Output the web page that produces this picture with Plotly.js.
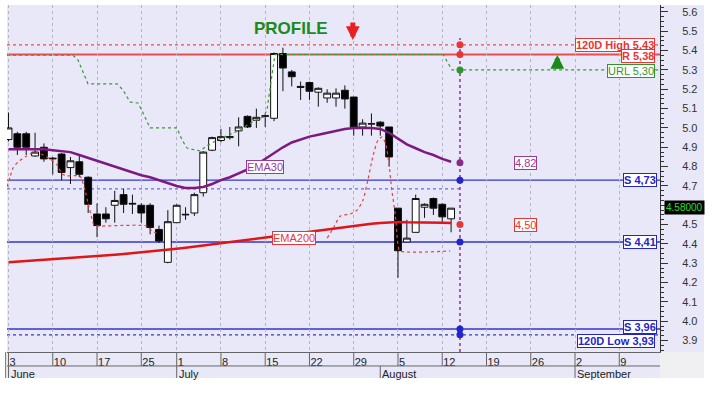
<!DOCTYPE html>
<html><head><meta charset="utf-8">
<script src="https://cdn.plot.ly/plotly-3.0.1.min.js"></script>
<style>html,body{margin:0;padding:0;background:#fff}#chart{width:722px;height:393px}</style>
</head><body><div id="chart"></div>
<script>
// ---- data ----
const dates = ['2019-06-03','2019-06-04','2019-06-05','2019-06-06','2019-06-07',
 '2019-06-10','2019-06-11','2019-06-12','2019-06-13','2019-06-14',
 '2019-06-17','2019-06-18','2019-06-19','2019-06-20','2019-06-21',
 '2019-06-25','2019-06-26','2019-06-27','2019-06-28',
 '2019-07-01','2019-07-02','2019-07-03','2019-07-04','2019-07-05',
 '2019-07-08','2019-07-09','2019-07-10','2019-07-11','2019-07-12',
 '2019-07-15','2019-07-16','2019-07-17','2019-07-18','2019-07-19',
 '2019-07-22','2019-07-23','2019-07-24','2019-07-25','2019-07-26',
 '2019-07-29','2019-07-30','2019-07-31','2019-08-01','2019-08-02',
 '2019-08-05','2019-08-06','2019-08-07','2019-08-08','2019-08-09',
 '2019-08-12','2019-08-13'];
const openP  = [4.94,4.97,4.97,4.855,4.90, 4.84,4.865,4.795,4.825,4.745, 4.555,4.555,4.60,4.655,4.61, 4.60,4.60,4.475,4.305,
 4.51,4.55,4.56,4.665,4.885, 4.935,4.95,4.985,5.06,5.04, 5.06,5.05,5.385,5.29,5.215, 5.235,5.185,5.155,5.155,5.195,
 5.16,5.005,5.02,5.03,5.005, 4.585,4.41,4.46,4.59,4.635, 4.605,4.53];
const highP  = [5.08,4.98,4.98,4.975,4.92, 4.85,4.87,4.85,4.855,4.75, 4.61,4.59,4.675,4.685,4.655, 4.61,4.61,4.495,4.575,
 4.605,4.59,4.665,4.88,4.955, 4.995,5.005,5.055,5.065,5.10, 5.07,5.39,5.415,5.30,5.24, 5.24,5.21,5.20,5.205,5.22,
 5.16,5.045,5.075,5.035,5.005, 4.585,4.525,4.655,4.61,4.64, 4.61,4.585];
const lowP   = [4.93,4.86,4.86,4.85,4.825, 4.76,4.73,4.71,4.745,4.56, 4.435,4.51,4.51,4.56,4.555, 4.51,4.45,4.405,4.30,
 4.51,4.525,4.545,4.645,4.88, 4.925,4.94,4.905,5.0,5.0, 5.005,5.035,5.19,5.215,5.145, 5.145,5.11,5.13,5.11,5.10,
 4.96,4.96,4.96,4.96,4.80, 4.225,4.41,4.46,4.535,4.55, 4.515,4.46];
const closeP = [5.00,4.90,4.90,4.875,4.84, 4.843,4.77,4.83,4.76,4.605, 4.495,4.53,4.625,4.605,4.607, 4.56,4.485,4.415,4.515,
 4.60,4.553,4.655,4.875,4.95, 4.955,4.955,5.005,5.005,5.055, 5.063,5.385,5.31,5.265,5.21, 5.19,5.205,5.18,5.18,5.15,
 5.005,5.025,5.022,5.01,4.85, 4.365,4.43,4.635,4.605,4.585, 4.54,4.585];
const ema30 = [4.89,4.89,4.89,4.89,4.89,4.885,4.88,4.875,4.86,4.845,4.83,4.815,4.80,4.785,4.77,4.755,4.745,4.73,4.715,
 4.70,4.69,4.69,4.695,4.71,4.73,4.745,4.765,4.785,4.81,4.84,4.87,4.90,4.925,4.94,4.955,4.965,4.975,4.985,4.995,
 5.0,5.0,5.0,4.995,4.975,4.945,4.915,4.895,4.875,4.86,4.84,4.825];
const ema200 = [4.305,4.308,4.311,4.314,4.317,4.32,4.323,4.326,4.329,4.332,4.336,4.34,4.344,4.348,4.352,4.356,4.36,4.364,4.37,
 4.375,4.38,4.386,4.392,4.398,4.403,4.408,4.413,4.419,4.425,4.431,4.437,4.443,4.45,4.456,4.463,4.47,4.476,4.482,4.488,
 4.494,4.50,4.504,4.508,4.511,4.514,4.512,4.512,4.512,4.511,4.51,4.508];
// red dotted stop line (trading-day position, price); null splits the two parts
const stopPos = [-0.17,0.17,0.51,1.07,1.86,2.66,3.22,3.9,4.69,5.48,6.05,6.61,8.08,8.3,8.64,8.98,9.32,9.66,10.0,15.65,16.2,16.7,
 null,36.0,36.7,37.5,38.6,39.4,40.05,40.6,41.2,41.75,42.2,42.65,43.0,43.3,43.7,44.0,44.2,49.9];
const stopVal = [4.695,4.746,4.793,4.824,4.85,4.871,4.876,4.86,4.84,4.809,4.762,4.752,4.752,4.731,4.679,4.612,4.55,4.498,4.493,4.493,4.467,4.457,
 null,4.43,4.483,4.545,4.555,4.576,4.627,4.731,4.86,4.938,4.953,4.912,4.808,4.679,4.55,4.395,4.364,4.364];
// green dotted URL line
const urlPos = [-0.17,7.29,7.85,8.4,8.98,12.26,12.94,13.73,14.63,15.2,16.0,19.04,19.6,20.17,21.6,22.5,23.7,25.7,27.9,28.8,29.2,30.1,49.1,50.1,73.6];
const urlVal = [5.376,5.376,5.352,5.29,5.228,5.228,5.196,5.134,5.129,5.077,5.0,5.0,4.938,4.896,4.881,4.91,4.94,4.98,5.04,5.057,5.093,5.38,5.38,5.30,5.30];
// levels
const levelVal   = [5.43, 5.38, 5.30, 4.73, 4.41, 3.96, 3.93];
const levelText  = ['120D High 5,43','R 5,38','URL 5,30','S 4,73','S 4,41','S 3,96','120D Low 3,93'];
const levelColor = ['#e83535','#e83535','#2f962f','#2424cc','#2424cc','#2424cc','#2424cc'];
const levelBold  = [true,true,false,true,true,true,true];
const levelShift = [0,-2,-1,0,0,2,-6];
const emaEndVal  = [4.82, 4.50];
const emaEndText = ['4,82','4,50'];
const dotLevel = 4.685;
const markerPos = 51;
const lastPrice = 4.58;
// axis labels
const weekTickPos  = [0,5,10,15,19,24,29,34,39,44,49,54,59,64,69];
const weekTickText = ['3','10','17','25','1','8','15','22','29','5','12','19','26','2','9'];
const monthPos  = [0,19,42,64];
const monthText = ['June','July','August','September'];
const yTickVals = [3.9,4.0,4.1,4.2,4.3,4.4,4.5,4.6,4.7,4.8,4.9,5.0,5.1,5.2,5.3,5.4,5.5,5.6];
const yTickText = ['3.9','4.0','4.1','4.2','4.3','4.4','4.5','','4.7','4.8','4.9','5.0','5.1','5.2','5.3','5.4','5.5','5.6'];

// ---- build ----
const xr = [-0.17, 73.6];
const yr = [3.841, 5.636];
const xi = dates.map((d,i)=>i);
const F = 'Liberation Sans, Arial, sans-serif';
const BG = '#e8e8f8';

const traces = [
 {type:'candlestick', x:xi, open:openP, high:highP, low:lowP, close:closeP,
  increasing:{line:{color:'#111',width:1}, fillcolor:'#ffffff'},
  decreasing:{line:{color:'#111',width:1}, fillcolor:'#000000'},
  whiskerwidth:0, hoverinfo:'skip'},
 {type:'scatter', mode:'lines', x:urlPos, y:urlVal, line:{color:'#3c963c',width:1.2,dash:'dot'}, hoverinfo:'skip'},
 {type:'scatter', mode:'lines', x:xi, y:ema30, line:{color:'#7d1a80',width:2.5}, hoverinfo:'skip'},
 {type:'scatter', mode:'lines', x:xi, y:ema200, line:{color:'#e01515',width:2.5}, hoverinfo:'skip'},
 {type:'scatter', mode:'lines', x:stopPos, y:stopVal, connectgaps:false, line:{color:'#e84040',width:1.2,dash:'dot',shape:'spline',smoothing:0.6}, hoverinfo:'skip'},
 {type:'scatter', mode:'markers', x:levelVal.map(()=>markerPos).concat(emaEndVal.map(()=>markerPos)),
  y:levelVal.concat(emaEndVal),
  marker:{size:7, color:levelColor.concat(['#8a2a8a','#e83535'])}, hoverinfo:'skip'}
];

const shapes = [
 {type:'rect', xref:'paper', yref:'paper', x0:0, x1:1, y0:-0.0749, y1:0, fillcolor:BG, line:{width:0}, layer:'below'},
 {type:'rect', xref:'paper', yref:'paper', x0:1, x1:1.0674, y0:0, y1:1, fillcolor:BG, line:{width:0}, layer:'below'},
 {type:'rect', xref:'paper', yref:'paper', x0:1, x1:1.0674, y0:-0.0749, y1:0, fillcolor:'#f0f0f2', line:{width:0}, layer:'below'},
 {type:'line', xref:'paper', yref:'paper', x0:0, x1:1, y0:-0.0403, y1:-0.0403, line:{color:'#666',width:1}},
 {type:'line', xref:'paper', yref:'paper', x0:-0.002, x1:-0.002, y0:-0.0749, y1:0, line:{color:'#666',width:1}}
];
monthPos.forEach(p=>shapes.push({type:'line', xref:'x', yref:'paper', x0:p, x1:p, y0:-0.0749, y1:-0.0403, line:{color:'#666',width:1}}));
weekTickPos.forEach(p=>shapes.push({type:'line', xref:'x', yref:'paper', x0:p, x1:p, y0:-0.0403, y1:0, line:{color:'#666',width:1}}));
// level lines
const dashes = ['3px,3px','solid',null,'solid','solid','solid','3px,3px'];
levelVal.forEach((v,k)=>{
  if(!dashes[k]) return;
  shapes.push({type:'line', xref:'paper', yref:'y', x0:0, x1:1, y0:v, y1:v, layer:'below',
    line:{color: k<2 ? '#f04a4a' : '#3535d0', width: k===1 ? 2 : 1.3, dash:dashes[k]}});
});
shapes.push({type:'line', xref:'x', yref:'y', x0:xr[0], x1:markerPos, y0:dotLevel, y1:dotLevel, layer:'below',
  line:{color:'#6a6ae0', width:1.2, dash:'dot'}});
shapes.push({type:'line', xref:'x', yref:'y', x0:markerPos, x1:markerPos, y0:yr[0], y1:5.465, layer:'below',
  line:{color:'#9a3a9a', width:1.6, dash:'dot'}});

const ann = [];
levelVal.forEach((v,k)=>ann.push({xref:'paper', yref:'y', x: k>=3 && k<=5 ? 0.9955 : 0.9925, y:v, yshift:levelShift[k],
  xanchor:'right', yanchor:'middle', showarrow:false, text: levelBold[k] ? '<b>'+levelText[k]+'</b>' : levelText[k],
  font:{family:F, size:11, color:levelColor[k]}, bgcolor:'#ffffff', bordercolor:levelColor[k], borderwidth:1, borderpad:0}));
const emaCol = ['#9a3a9a','#e83535'];
emaEndVal.forEach((v,k)=>ann.push({xref:'x', yref:'y', x:58.4, y:v, showarrow:false, text:emaEndText[k],
  font:{family:F, size:11, color:emaCol[k]}, bgcolor:'#ffffff', bordercolor:emaCol[k], borderwidth:1, borderpad:0}));
ann.push({xref:'x', yref:'y', x:29, y:4.796, showarrow:false, text:'EMA30',
  font:{family:F, size:11, color:'#9a3a9a'}, bgcolor:'#ffffff', bordercolor:'#9a3a9a', borderwidth:1, borderpad:0});
ann.push({xref:'x', yref:'y', x:32.2, y:4.43, showarrow:false, text:'EMA200',
  font:{family:F, size:11, color:'#e83535'}, bgcolor:'#ffffff', bordercolor:'#e83535', borderwidth:1, borderpad:0});
ann.push({xref:'x', yref:'y', x:31.9, y:5.512, showarrow:false, text:'<b>PROFILE</b>',
  font:{family:F, size:17, color:'#1c8a1c'}});
ann.push({xref:'x', yref:'y', x:38.9, y:5.455, text:'', showarrow:true, ax:0, ay:-19, arrowhead:2, arrowsize:0.55, arrowwidth:5, arrowcolor:'#e82020'});
ann.push({xref:'x', yref:'y', x:62, y:5.378, text:'', showarrow:true, ax:0, ay:15, arrowhead:2, arrowsize:0.55, arrowwidth:5, arrowcolor:'#1a8a1a'});
ann.push({xref:'paper', yref:'y', x:1.006, y:4.586, xanchor:'left', yanchor:'middle', showarrow:false, text:lastPrice.toFixed(5),
  font:{family:F, size:10, color:'#22e022'}, bgcolor:'#000000', borderpad:1});
monthPos.forEach((p,k)=>ann.push({xref:'x', yref:'paper', x:p, y:-0.063, xanchor:'left', yanchor:'middle', xshift:0,
  showarrow:false, text:monthText[k], font:{family:F, size:11, color:'#222'}}));

const layout = {
  width:722, height:393, margin:{l:7, r:62, t:5, b:41},
  paper_bgcolor:'#ffffff', plot_bgcolor:BG, showlegend:false,
  boxgap:0.12, boxgroupgap:0.12,
  xaxis:{range:xr, tickmode:'array', tickvals:weekTickPos, ticktext:weekTickText,
    ticks:'outside', ticklen:14, tickcolor:'rgba(0,0,0,0)', tickwidth:1,
    ticklabelposition:'outside right', ticklabelstandoff:0,
    tickfont:{family:F, size:11, color:'#222'},
    showgrid:true, gridcolor:'#b4b4c4', griddash:'dot', gridwidth:1,
    zeroline:false, showline:true, linecolor:'#666', rangeslider:{visible:false}, fixedrange:true},
  yaxis:{range:yr, side:'right', tickmode:'array', tickvals:yTickVals, ticktext:yTickText,
    ticks:'outside', ticklen:7, tickcolor:'#333', showline:true, linecolor:'#333',
    showgrid:false, zeroline:false, ticklabelstandoff:12,
    minor:{tickmode:'linear', tick0:0, dtick:0.025, ticks:'outside', ticklen:3, tickcolor:'#333', showgrid:false},
    tickfont:{family:F, size:11, color:'#333'}, fixedrange:true},
  shapes:shapes, annotations:ann
};
Plotly.newPlot('chart', traces, layout, {staticPlot:true, displayModeBar:false});
</script></body></html>
